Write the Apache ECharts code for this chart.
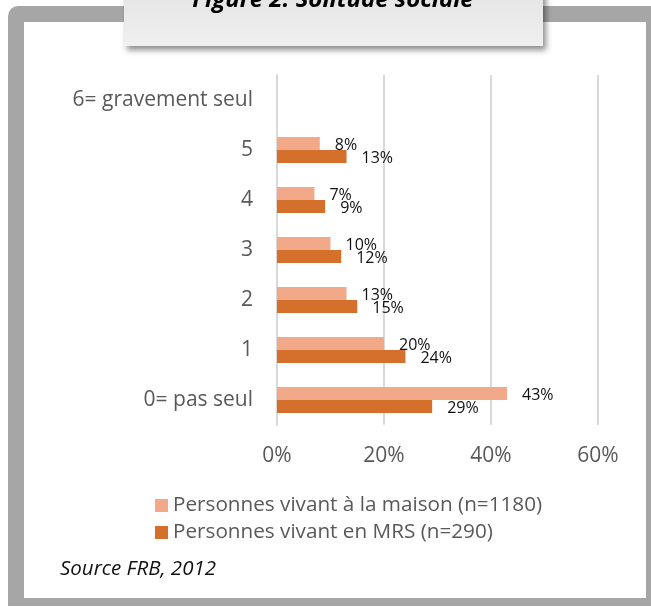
<!DOCTYPE html>
<html>
<head>
<meta charset="utf-8">
<script src="https://cdn.jsdelivr.net/npm/echarts@6/dist/echarts.min.js"></script>
<style>html,body{margin:0;padding:0;background:#fff}#c{width:651px;height:608px}</style>
</head>
<body>
<div id="c"></div>
<script>
var categories = ['0= pas seul', '1', '2', '3', '4', '5', '6= gravement seul'];
var maison = [43, 20, 13, 10, 7, 8, null];
var mrs = [29, 24, 15, 12, 9, 13, null];
var xTicks = [0, 20, 40, 60];
var legendNames = ['Personnes vivant à la maison (n=1180)', 'Personnes vivant en MRS (n=290)'];
var titleText = 'Figure 2: Solitude sociale';
var sourceText = 'Source FRB, 2012';

var FONT = 'Open Sans';
var chart = echarts.init(document.getElementById('c'), null, {renderer: 'canvas'});
var labelStyle = {
  show: true, position: 'right', distance: 15, offset: [0, 2],
  color: '#111', fontSize: 16, fontFamily: FONT,
  formatter: function (p) { return p.value == null ? '' : p.value + '%'; }
};
chart.setOption({
  animation: false,
  graphic: [
    {type: 'rect', z: -10, shape: {x: 8, y: 6, width: 660, height: 600, r: [10, 0, 0, 0]}, style: {fill: '#a6a6a6'}},
    {type: 'rect', z: -9, shape: {x: 24, y: 22, width: 622, height: 576}, style: {fill: '#ffffff'}},
    {type: 'rect', z: 50, shape: {x: 124, y: -10, width: 419, height: 56},
      style: {fill: new echarts.graphic.LinearGradient(0, 0, 0, 1, [{offset: 0, color: '#e4e4e4'}, {offset: 1, color: '#f0f0f0'}]),
        shadowBlur: 6, shadowOffsetX: 3, shadowOffsetY: 4, shadowColor: 'rgba(0,0,0,0.45)'}},
    {type: 'text', z: 51, x: 333, y: 0, style: {text: titleText, fill: '#000', font: 'italic bold 24px ' + FONT, align: 'center', verticalAlign: 'middle'}},
    {type: 'text', z: 51, x: 60, y: 569, style: {text: sourceText, fill: '#111', font: 'italic 20.5px ' + FONT, align: 'left', verticalAlign: 'middle'}}
  ],
  grid: {left: 277, right: 53, top: 75, bottom: 183, containLabel: false},
  legend: {
    data: legendNames, orient: 'vertical', left: 150, top: 490,
    icon: 'rect', itemWidth: 13, itemHeight: 13, itemGap: 6,
    textStyle: {color: '#595959', fontSize: 20.7, fontFamily: FONT}
  },
  xAxis: {
    type: 'value', min: 0, max: 60, interval: 20,
    axisLine: {show: false}, axisTick: {show: false},
    splitLine: {lineStyle: {color: '#d9d9d9', width: 2}},
    axisLabel: {color: '#595959', fontSize: 21, fontFamily: FONT, margin: 21, formatter: '{value}%'}
  },
  yAxis: {
    type: 'category', data: categories,
    axisLine: {show: true, lineStyle: {color: '#d9d9d9', width: 2}}, axisTick: {show: false},
    axisLabel: {color: '#595959', fontSize: 21, fontFamily: FONT, margin: 24, padding: [5, 0, 0, 0]}
  },
  series: [
    {name: legendNames[0], type: 'bar', data: maison, barWidth: 13, barGap: '0%', itemStyle: {color: '#f2a98a'}, label: labelStyle},
    {name: legendNames[1], type: 'bar', data: mrs, barWidth: 13, barGap: '0%', itemStyle: {color: '#d46f2c'}, label: labelStyle}
  ]
});
</script>
</body>
</html>
